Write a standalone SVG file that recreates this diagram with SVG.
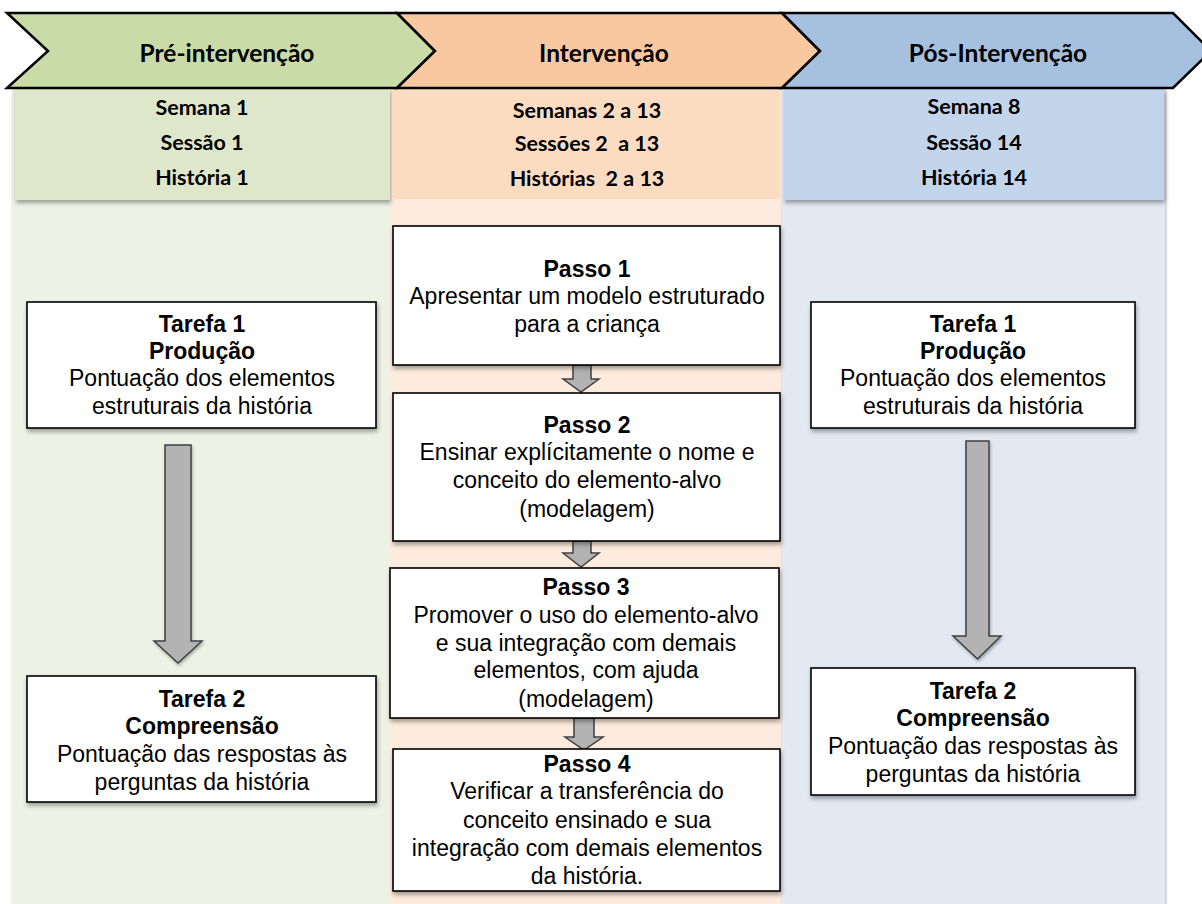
<svg xmlns="http://www.w3.org/2000/svg" width="1202" height="904" viewBox="0 0 1202 904">
<defs>
<filter id="sh" x="-10%" y="-10%" width="130%" height="140%">
<feDropShadow dx="1" dy="3" stdDeviation="2" flood-color="#000" flood-opacity="0.35"/>
</filter>
<filter id="shs" x="-10%" y="-10%" width="130%" height="140%">
<feDropShadow dx="1" dy="2" stdDeviation="1.5" flood-color="#000" flood-opacity="0.3"/>
</filter>
</defs>
<style>
.chev{stroke:#000;stroke-width:2.5;stroke-linejoin:miter}
.head{font-family:Lato,"Open Sans","Liberation Sans",sans-serif;font-weight:bold;font-size:24.5px;fill:#000;text-anchor:middle}
.band{font-family:Lato,"Open Sans","Liberation Sans",sans-serif;font-weight:bold;font-size:21.5px;fill:#000;text-anchor:middle}
.box{fill:#fff;stroke:#000;stroke-width:1.6}
.t{font-family:"Liberation Sans",Arial,sans-serif;font-size:23px;fill:#000;text-anchor:middle}
.b{font-weight:bold}
.arr{fill:#b3b3b3;stroke:#404040;stroke-width:1.5;stroke-linejoin:miter}
</style>
<rect width="1202" height="904" fill="#fff"/>
<g id="columns">
<rect x="12" y="88" width="378" height="816" fill="#eef2e5" filter="url(#shs)"/>
<rect x="390" y="88" width="392" height="816" fill="#fdebdd"/>
<rect x="782" y="88" width="383" height="816" fill="#e2e9f3" filter="url(#shs)"/>
</g>
<g id="bands">
<rect x="15" y="88" width="375" height="112" fill="#dee7ca" filter="url(#sh)"/>
<rect x="392" y="88" width="388" height="111" fill="#fbdcc0"/>
<rect x="784" y="88" width="380" height="112" fill="#c3d5eb" filter="url(#sh)"/>
</g>
<g id="phase-pre">
<path class="chev" d="M7,13 L397,13 L435,51 L397,88 L7,88 L48,51 Z" fill="#c9dba7"/>
<text class="head" x="227" y="62">Pré-intervenção</text>
<text class="band" x="202" y="115">Semana 1</text>
<text class="band" x="202" y="150">Sessão 1</text>
<text class="band" x="202" y="185">História 1</text>
</g>
<g id="phase-int">
<path class="chev" d="M397,13 L782,13 L820,51 L782,88 L397,88 L435,51 Z" fill="#fac8a0"/>
<text class="head" x="604" y="62">Intervenção</text>
<text class="band" x="587" y="118">Semanas 2 a 13</text>
<text class="band" x="587" y="151" xml:space="preserve">Sessões 2  a 13</text>
<text class="band" x="587" y="186" xml:space="preserve">Histórias  2 a 13</text>
</g>
<g id="phase-pos">
<path class="chev" d="M782,13 L1173,13 L1211,51 L1173,88 L782,88 L820,51 Z" fill="#a6c0df"/>
<text class="head" x="998" y="62">Pós-Intervenção</text>
<text class="band" x="974" y="114">Semana 8</text>
<text class="band" x="974" y="150">Sessão 14</text>
<text class="band" x="974" y="185">História 14</text>
</g>
<g id="connectors">
<path class="arr" d="M165,445 L191,445 L191,641 L202,641 L178,663 L154,641 L165,641 Z" filter="url(#shs)"/>
<path class="arr" d="M966,441 L989,441 L989,636 L1001,636 L977.5,659 L953,636 L966,636 Z" filter="url(#shs)"/>
<path class="arr" d="M573,365 L591,365 L591,379 L599,379 L581,392 L563,379 L573,379 Z"/>
<path class="arr" d="M573,541 L591,541 L591,553 L599,553 L581,567 L563,553 L573,553 Z"/>
<path class="arr" d="M574,718 L594,718 L594,737 L603,737 L584,750 L565,737 L574,737 Z"/>
</g>
<g id="pre-tarefa1">
<rect class="box" x="27" y="302" width="349" height="126" filter="url(#sh)"/>
<text class="t b" x="202" y="332">Tarefa 1</text>
<text class="t b" x="202" y="359">Produção</text>
<text class="t" x="202" y="386">Pontuação dos elementos</text>
<text class="t" x="202" y="414">estruturais da história</text>
</g>
<g id="pre-tarefa2">
<rect class="box" x="27" y="676" width="349" height="126" filter="url(#sh)"/>
<text class="t b" x="202" y="707">Tarefa 2</text>
<text class="t b" x="202" y="734">Compreensão</text>
<text class="t" x="202" y="762">Pontuação das respostas às</text>
<text class="t" x="202" y="790">perguntas da história</text>
</g>
<g id="passo1">
<rect class="box" x="393" y="226" width="387" height="139" filter="url(#sh)"/>
<text class="t b" x="587" y="277">Passo 1</text>
<text class="t" x="587" y="304">Apresentar um modelo estruturado</text>
<text class="t" x="587" y="332">para a criança</text>
</g>
<g id="passo2">
<rect class="box" x="393" y="393" width="387" height="148" filter="url(#sh)"/>
<text class="t b" x="587" y="433">Passo 2</text>
<text class="t" x="587" y="460">Ensinar explícitamente o nome e</text>
<text class="t" x="587" y="488">conceito do elemento-alvo</text>
<text class="t" x="587" y="517">(modelagem)</text>
</g>
<g id="passo3">
<rect class="box" x="390" y="568" width="389" height="150" filter="url(#sh)"/>
<text class="t b" x="586" y="595">Passo 3</text>
<text class="t" x="586" y="623">Promover o uso do elemento-alvo</text>
<text class="t" x="586" y="651">e sua integração com demais</text>
<text class="t" x="586" y="678">elementos, com ajuda</text>
<text class="t" x="586" y="707">(modelagem)</text>
</g>
<g id="passo4">
<rect class="box" x="393" y="749" width="387" height="142" filter="url(#sh)"/>
<text class="t b" x="587" y="772">Passo 4</text>
<text class="t" x="587" y="799">Verificar a transferência do</text>
<text class="t" x="587" y="828">conceito ensinado e sua</text>
<text class="t" x="587" y="856">integração com demais elementos</text>
<text class="t" x="587" y="884">da história.</text>
</g>
<g id="pos-tarefa1">
<rect class="box" x="811" y="302" width="324" height="126" filter="url(#sh)"/>
<text class="t b" x="973" y="332">Tarefa 1</text>
<text class="t b" x="973" y="359">Produção</text>
<text class="t" x="973" y="386">Pontuação dos elementos</text>
<text class="t" x="973" y="414">estruturais da história</text>
</g>
<g id="pos-tarefa2">
<rect class="box" x="811" y="668" width="324" height="127" filter="url(#sh)"/>
<text class="t b" x="973" y="699">Tarefa 2</text>
<text class="t b" x="973" y="726">Compreensão</text>
<text class="t" x="973" y="754">Pontuação das respostas às</text>
<text class="t" x="973" y="782">perguntas da história</text>
</g>
</svg>
